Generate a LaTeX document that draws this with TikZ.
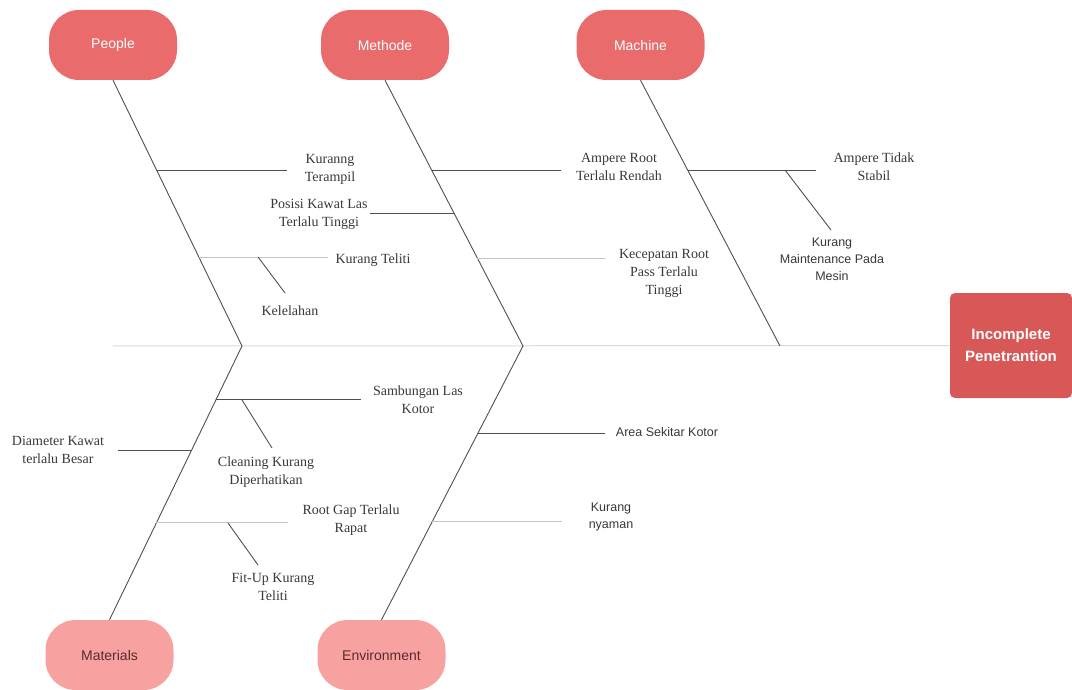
\documentclass[tikz,border=0pt]{standalone}
\usepackage{fontspec}
\setmainfont{Liberation Serif}
\setsansfont{Liberation Sans}
\usetikzlibrary{calc}
\definecolor{headtop}{HTML}{E96B6B}
\definecolor{headlow}{HTML}{F8A1A1}
\definecolor{headink}{HTML}{5A2B2B}
\definecolor{effectred}{HTML}{D85757}
\definecolor{bonegray}{HTML}{4F4F4F}
\definecolor{faintgray}{HTML}{C4C4C4}
\definecolor{spinegray}{HTML}{DADADA}
\definecolor{labelgray}{HTML}{383838}

\begin{document}
\begin{tikzpicture}[x=1pt,y=-1pt,
  head/.style={rounded corners=30pt,minimum width=128pt,minimum height=70pt,inner sep=0pt,
               font=\sffamily\fontsize{14}{16}\selectfont},
  headup/.style={head,fill=headtop,text=white},
  headdown/.style={head,fill=headlow,text=headink},
  effect/.style={fill=effectred,rounded corners=5pt,minimum width=122pt,minimum height=105pt,
                 align=center,text=white,font=\sffamily\bfseries\fontsize{15}{22}\selectfont},
  lbl/.style={align=center,inner sep=0pt,outer sep=14pt,text=labelgray,
              font=\fontsize{14}{18}\selectfont},
  slbl/.style={lbl,font=\sffamily\fontsize{12.5}{17}\selectfont},
  bone/.style={draw=bonegray,line width=0.9pt},
  faint/.style={draw=faintgray,line width=0.9pt},
  spine/.style={draw=spinegray,line width=1pt},
]
\useasboundingbox (0,0) rectangle (1072,690);
\node[headup] (people) at (113,45) {People};
\node[headup] (methode) at (385,45) {Methode};
\node[headup] (machine) at (640.5,45) {Machine};
\node[headdown] (materials) at (109.5,655) {Materials};
\node[headdown] (environment) at (381.5,655) {Environment};
\node[effect] (effect) at (1011,345.5) {Incomplete\\Penetrantion};
\coordinate (tail) at (113,346);
\coordinate (jA) at (242,346);
\coordinate (jB) at (523,346);
\coordinate (jC) at (780,346);
\draw[spine] (tail) -- (effect.west);
\draw[bone] (people.south) -- (jA) -- (materials.north);
\draw[bone] (methode.south) -- (jB) -- (environment.north);
\draw[bone] (machine.south) -- (jC);
% cause labels
\node[lbl,outer sep=18pt] (kter) at (330,169) {Kuranng\\Terampil};
\node[lbl,outer sep=2pt] (posisi) at (319,214) {Posisi Kawat Las\\Terlalu Tinggi};
\node[lbl,outer sep=8pt] (kteliti) at (373,260) {Kurang Teliti};
\node[lbl] (lelah) at (290,311) {Kelelahan};
\node[lbl,outer sep=15pt] (aroot) at (619,167) {Ampere Root\\Terlalu Rendah};
\node[lbl] (kecep) at (664,273) {Kecepatan Root\\Pass Terlalu\\Tinggi};
\node[lbl,outer sep=18pt] (atidak) at (874,167) {Ampere Tidak\\Stabil};
\node[slbl] (maint) at (832,259) {Kurang\\Maintenance Pada\\Mesin};
\node[lbl,outer sep=12pt] (sambung) at (418,400) {Sambungan Las\\Kotor};
\node[lbl] (clean) at (266,472) {Cleaning Kurang\\Diperhatikan};
\node[lbl] (diam) at (58,450) {Diameter Kawat\\terlalu Besar};
\node[lbl,outer sep=15pt] (rgap) at (351,520) {Root Gap Terlalu\\Rapat};
\node[lbl] (fitup) at (273,587) {Fit-Up Kurang\\Teliti};
\node[slbl,outer sep=11pt] (area) at (667,432) {Area Sekitar Kotor};
\node[slbl,outer sep=27pt] (nyaman) at (611,517) {Kurang\\nyaman};
% points on the bones
\coordinate (p1) at ($(people.south)!0.338!(jA)$);
\coordinate (p2) at ($(people.south)!0.665!(jA)$);
\coordinate (m1) at ($(methode.south)!0.338!(jB)$);
\coordinate (m2) at ($(methode.south)!0.5!(jB)$);
\coordinate (m3) at ($(methode.south)!0.669!(jB)$);
\coordinate (c1) at ($(machine.south)!0.338!(jC)$);
\coordinate (a1) at ($(jA)!0.197!(materials.north)$);
\coordinate (a2) at ($(jA)!0.380!(materials.north)$);
\coordinate (a3) at ($(jA)!0.646!(materials.north)$);
\coordinate (e1) at ($(jB)!0.321!(environment.north)$);
\coordinate (e2) at ($(jB)!0.642!(environment.north)$);
% sub-branch ends
\coordinate (lelahtop) at (258,257);
\coordinate (lelahtip) at (285,293);
\coordinate (mainttop) at (785,170);
\coordinate (mainttip) at (831,230);
\coordinate (cleantop) at (242,400);
\coordinate (cleantip) at (272,448);
\coordinate (fittop) at (228,523);
\coordinate (fittip) at (258,565);
\draw[bone] (p1) -- (p1 -| kter.west);
\draw[faint] (p2) -- (p2 -| kteliti.west);
\draw[bone] (lelahtop) -- (lelahtip);
\draw[bone] (m2) -- (m2 -| posisi.east);
\draw[bone] (m1) -- (m1 -| aroot.west);
\draw[faint] (m3) -- (m3 -| kecep.west);
\draw[bone] (c1) -- (c1 -| atidak.west);
\draw[bone] (mainttop) -- (mainttip);
\draw[bone] (a1) -- (a1 -| sambung.west);
\draw[bone] (cleantop) -- (cleantip);
\draw[bone] (a2) -- (a2 -| diam.east);
\draw[faint] (a3) -- (a3 -| rgap.west);
\draw[bone] (fittop) -- (fittip);
\draw[bone] (e1) -- (e1 -| area.west);
\draw[faint] (e2) -- (e2 -| nyaman.west);
\end{tikzpicture}
\end{document}
